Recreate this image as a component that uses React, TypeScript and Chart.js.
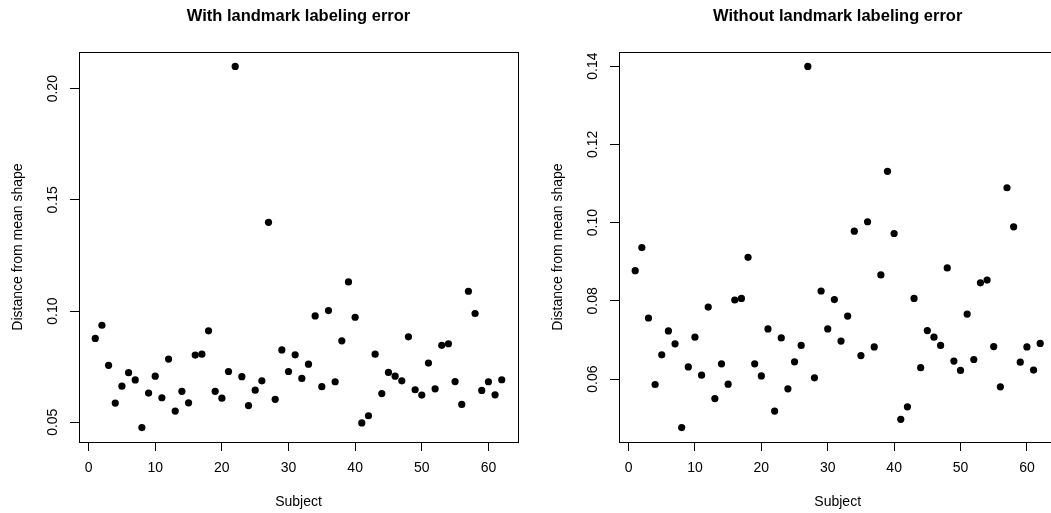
import React, { useEffect, useRef } from "react";
import { Chart, registerables } from "chart.js";

Chart.register(...registerables);

const subjects = [
  1, 2, 3, 4, 5, 6, 7, 8, 9, 10, 11, 12, 13, 14, 15, 16, 17, 18, 19, 20,
  21, 22, 23, 24, 25, 26, 27, 28, 29, 30, 31, 32, 33, 34, 35, 36, 37, 38, 39, 40,
  41, 42, 43, 44, 45, 46, 47, 48, 49, 50, 51, 52, 53, 54, 55, 56, 57, 58, 59, 60,
  61, 62,
];

const distWithError = [
  0.0877, 0.0936, 0.0756, 0.0586, 0.0662, 0.0723, 0.069, 0.0476, 0.0631, 0.0707,
  0.061, 0.0784, 0.055, 0.0639, 0.0587, 0.0802, 0.0806, 0.0911, 0.0639, 0.0608,
  0.0728, 0.2100, 0.0705, 0.0575, 0.0644, 0.0686, 0.1399, 0.0603, 0.0825, 0.0728,
  0.0803, 0.0697, 0.0761, 0.0978, 0.066, 0.1002, 0.0682, 0.0866, 0.1131, 0.0972,
  0.0497, 0.0529, 0.0806, 0.0629, 0.0724, 0.0707, 0.0686, 0.0884, 0.0646, 0.0622,
  0.0766, 0.065, 0.0846, 0.0853, 0.0683, 0.058, 0.1089, 0.0989, 0.0643, 0.0682,
  0.0623, 0.0691,
];

const distWithoutError = [
  0.0877, 0.0936, 0.0756, 0.0586, 0.0662, 0.0723, 0.069, 0.0476, 0.0631, 0.0707,
  0.061, 0.0784, 0.055, 0.0639, 0.0587, 0.0802, 0.0806, 0.0911, 0.0639, 0.0608,
  0.0728, 0.0518, 0.0705, 0.0575, 0.0644, 0.0686, 0.1399, 0.0603, 0.0825, 0.0728,
  0.0803, 0.0697, 0.0761, 0.0978, 0.066, 0.1002, 0.0682, 0.0866, 0.1131, 0.0972,
  0.0497, 0.0529, 0.0806, 0.0629, 0.0724, 0.0707, 0.0686, 0.0884, 0.0646, 0.0622,
  0.0766, 0.065, 0.0846, 0.0853, 0.0683, 0.058, 0.1089, 0.0989, 0.0643, 0.0682,
  0.0623, 0.0691,
];

const xTicks = [0, 10, 20, 30, 40, 50, 60];
const yTicksWith = [0.05, 0.1, 0.15, 0.2];
const yTicksWithout = [0.06, 0.08, 0.1, 0.12, 0.14];

const titleWith = "With landmark labeling error";
const titleWithout = "Without landmark labeling error";
const xTitle = "Subject";
const yTitle = "Distance from mean shape";

const FONT = '"Liberation Sans", Arial, Helvetica, sans-serif';

function rRange(vals: number[]): [number, number] {
  const lo = Math.min(...vals);
  const hi = Math.max(...vals);
  const d = (hi - lo) * 0.04;
  return [lo - d, hi + d];
}

const boxPlugin = {
  id: "rbox",
  beforeDatasetsDraw(chart: any) {
    const { ctx, chartArea } = chart;
    const l = Math.round(chartArea.left) + 0.5;
    const t = Math.round(chartArea.top) + 0.5;
    const r = Math.round(chartArea.right) + 0.5;
    const b = Math.round(chartArea.bottom) + 0.5;
    ctx.save();
    ctx.strokeStyle = "#000";
    ctx.lineWidth = 1;
    ctx.strokeRect(l, t, r - l, b - t);
    ctx.restore();
  },
};

type PanelProps = {
  values: number[];
  yTicks: number[];
  title: string;
  left: number;
  padLeft: number;
  padRight: number;
};

function Panel({ values, yTicks, title, left, padLeft, padRight }: PanelProps) {
  const ref = useRef<HTMLCanvasElement>(null);
  useEffect(() => {
    if (!ref.current) return;
    const [ymin, ymax] = rRange(values);
    const [xmin, xmax] = rRange(subjects);
    const chart = new Chart(ref.current, {
      type: "scatter",
      data: {
        datasets: [
          {
            data: subjects.map((s, i) => ({ x: s, y: values[i] })),
            backgroundColor: "#000",
            borderWidth: 0,
            pointRadius: 3.6,
            pointHoverRadius: 3.6,
          },
        ],
      },
      options: {
        responsive: false,
        animation: false,
        devicePixelRatio: 1,
        events: [],
        layout: { padding: { left: padLeft, right: padRight, top: 0, bottom: 0 } },
        plugins: {
          legend: { display: false },
          tooltip: { enabled: false },
          title: {
            display: true,
            text: title,
            fullSize: false,
            color: "#000",
            font: { family: FONT, size: 16.5, weight: "bold", lineHeight: 1.2 },
            padding: { top: 6.6, bottom: 25.6 },
          },
        },
        scales: {
          x: {
            type: "linear",
            min: xmin,
            max: xmax,
            afterBuildTicks: (scale: any) => {
              scale.ticks = xTicks.map((v) => ({ value: v }));
            },
            afterFit: (scale: any) => {
              scale.height = 71;
            },
            grid: {
              display: true,
              drawOnChartArea: false,
              drawTicks: true,
              tickLength: 9,
              color: "#000",
              lineWidth: 1,
            },
            border: { display: false },
            ticks: {
              autoSkip: false,
              maxRotation: 0,
              minRotation: 0,
              padding: 8.3,
              color: "#000",
              font: { family: FONT, size: 14, lineHeight: 1.2 },
              callback: (v: any) => String(v),
            },
            title: {
              display: true,
              text: xTitle,
              color: "#000",
              font: { family: FONT, size: 14, lineHeight: 1.2 },
              padding: { top: 0, bottom: 2.6 },
            },
          },
          y: {
            type: "linear",
            min: ymin,
            max: ymax,
            afterBuildTicks: (scale: any) => {
              scale.ticks = yTicks.map((v) => ({ value: v }));
            },
            afterFit: (scale: any) => {
              scale.width = 79;
            },
            grid: {
              display: true,
              drawOnChartArea: false,
              drawTicks: true,
              tickLength: 9,
              color: "#000",
              lineWidth: 1,
            },
            border: { display: false },
            ticks: {
              autoSkip: false,
              minRotation: 90,
              maxRotation: 90,
              crossAlign: "center",
              padding: 3.4,
              color: "#000",
              font: { family: FONT, size: 14, lineHeight: 1.2 },
              callback: (v: any) => Number(v).toFixed(2),
            },
            title: {
              display: true,
              text: yTitle,
              color: "#000",
              font: { family: FONT, size: 14, lineHeight: 1.2 },
              padding: { top: 9.6, bottom: 0 },
            },
          },
        },
      },
      plugins: [boxPlugin],
    } as any);
    return () => chart.destroy();
  }, [values, yTicks, title, padLeft, padRight]);
  return (
    <canvas
      ref={ref}
      width={530}
      height={513}
      style={{ position: "absolute", left, top: 0, width: 530, height: 513 }}
    />
  );
}

export default function App() {
  return (
    <div
      style={{
        position: "fixed",
        left: 0,
        top: 0,
        width: 1051,
        height: 513,
        overflow: "hidden",
        background: "#fff",
      }}
    >
      <Panel values={distWithError} yTicks={yTicksWith} title={titleWith} left={0} padLeft={0} padRight={12} />
      <Panel values={distWithoutError} yTicks={yTicksWithout} title={titleWithout} left={530} padLeft={10} padRight={2} />
    </div>
  );
}
